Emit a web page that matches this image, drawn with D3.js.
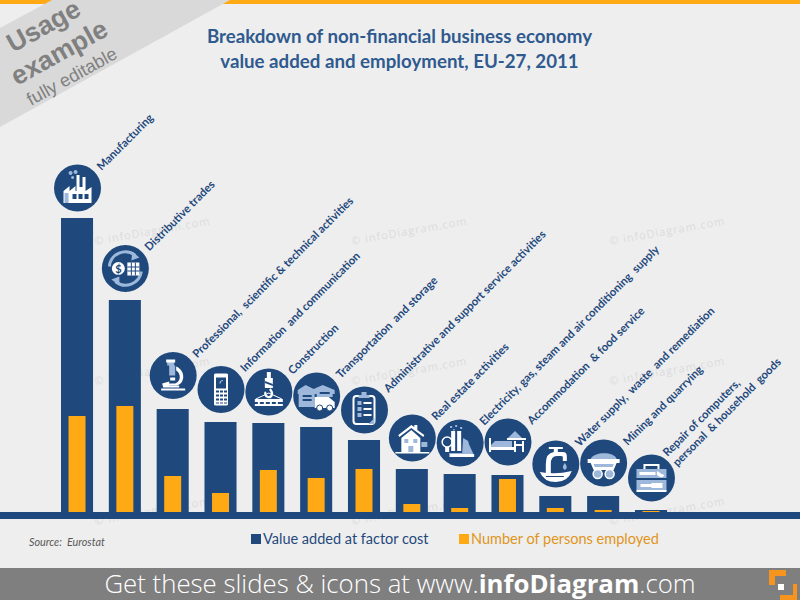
<!DOCTYPE html>
<html>
<head>
<meta charset="utf-8">
<script src="https://cdn.jsdelivr.net/npm/d3@7"></script>
<style>
  html, body { margin: 0; padding: 0; background: #eeeeee; }
  svg { display: block; }
  text { white-space: pre; }
</style>
</head>
<body>
<div id="chart"></div>
<script>
// chart data (share in %)
const categories = [
  "Manufacturing", "Distributive trades",
  "Professional,  scientific & technical activities",
  "Information  and communication", "Construction", "Transportation  and storage",
  "Administrative and support service activities", "Real estate activities",
  "Electricity, gas, steam and air conditioning  supply",
  "Accommodation  & food service", "Water supply,  waste  and remediation",
  "Mining and quarrying", "Repair of computers,|personal  & household  goods"
];
const valueAdded = [29.4, 21.2, 10.3, 9.0, 8.9, 8.5, 7.2, 4.3, 3.8, 3.7, 1.6, 1.6, 0.2];
const personsEmployed = [9.6, 10.6, 3.6, 1.9, 4.2, 3.4, 4.3, 0.8, 0.4, 3.3, 0.4, 0.2, 0.1];
const seriesNames = ["Value added at factor cost", "Number of persons employed"];
const iconNames = ["factory", "trade", "microscope", "phone", "crane", "warehouse",
  "clipboard", "house", "power", "bed", "tap", "mine", "toolbox"];
const watermarkRows = [245, 385, 525];
const watermarkCols = [95, 352, 610];

const NAVY = "#1f497d", ORANGE = "#ffa914", BG = "#eeeeee", PALE = "#9db8da";

const svg = d3.select("#chart").append("svg").attr("width", 800).attr("height", 600);

svg.append("rect").attr("width", 800).attr("height", 600).attr("fill", BG);
svg.append("rect").attr("width", 800).attr("height", 4).attr("fill", ORANGE);

// corner banner
svg.append("path").attr("d", "M0,28L52,0L230,0L0,127Z").attr("fill", "#d9d9d9");
const banner = [["Usage", 13, 53, 26.5, "bold"], ["example", 17, 86, 26.5, "bold"], ["fully editable", 31, 106, 18, "normal"]];
svg.selectAll(".banner").data(banner).join("text")
  .attr("transform", d => `translate(${d[1]},${d[2]}) rotate(-29)`)
  .attr("font-family", "'Liberation Sans', Arial, sans-serif")
  .attr("font-size", d => d[3]).attr("font-weight", d => d[4])
  .attr("fill", "#808080").text(d => d[0]);

// watermarks
const clip = svg.append("clipPath").attr("id", "wm").append("rect").attr("width", 800).attr("height", 530);
const wm = svg.append("g").attr("clip-path", "url(#wm)");
watermarkRows.forEach(y => watermarkCols.forEach(x => {
  wm.append("text").attr("transform", `translate(${x},${y}) rotate(-10)`)
    .attr("font-family", "'Open Sans', sans-serif").attr("font-size", 11).attr("letter-spacing", 1)
    .attr("fill", "#dcdcdc").text("© infoDiagram.com");
}));

// title
svg.selectAll(".title").data(["Breakdown of non-financial business economy", "value added and employment, EU-27, 2011"])
  .join("text").attr("x", 399.5).attr("y", (d, i) => 43 + i * 24.5)
  .attr("text-anchor", "middle").attr("font-family", "Lato, sans-serif")
  .attr("font-size", 18.7).attr("font-weight", 700).attr("fill", "#2f5a8f").text(d => d);

// scales
const x = d3.scaleBand().domain(categories).range([61, 667]).paddingInner(0.33).paddingOuter(0);
const y = d3.scaleLinear().domain([0, 30]).range([512, 212]);
const inner = x.bandwidth() * 0.53;

// bars
svg.selectAll(".bar").data(categories).join("rect").attr("class", "bar")
  .attr("x", d => x(d)).attr("width", x.bandwidth())
  .attr("y", (d, i) => y(valueAdded[i]))
  .attr("height", (d, i) => y(0) - y(valueAdded[i]))
  .attr("fill", NAVY);
svg.selectAll(".emp").data(categories).join("rect").attr("class", "emp")
  .attr("x", d => x(d) + (x.bandwidth() - inner) / 2).attr("width", inner)
  .attr("y", (d, i) => y(personsEmployed[i]))
  .attr("height", (d, i) => y(0) - y(personsEmployed[i]))
  .attr("fill", ORANGE);

// axis band
svg.append("rect").attr("y", y(0)).attr("width", 800).attr("height", 7).attr("fill", NAVY);

// icons, drawn around the centre of each circle
function shape(g, d, fill) { g.append("path").attr("d", d).attr("fill", fill || "#fff"); }
const icons = {
  factory(g) {
    shape(g, "M-14,15V3L-8,-2V3L-2,-2V3H-1V-13H2V-1H5V-11H8V3L14,-1V15Z");
    shape(g, "M-5,6H-1V11H-5ZM1,6H5V11H1ZM7,6H11V11H7Z", NAVY);
    shape(g, "M-7,-17a2,2 0 1,0 .1,0ZM-2,-18a2,2 0 1,0 .1,0ZM-5,-12a1.5,1.5 0 1,0 .1,0Z", PALE);
    shape(g, "M-13,5H-9V15H-13Z", PALE);
  },
  trade(g) {
    g.append("path").attr("d", "M-16,-2A16,16 0 0,1 10,-13").attr("fill", "none").attr("stroke", PALE).attr("stroke-width", 3);
    g.append("path").attr("d", "M16,3A16,16 0 0,1 -10,13").attr("fill", "none").attr("stroke", PALE).attr("stroke-width", 3);
    shape(g, "M7,-17L14,-11L6,-8Z", PALE); shape(g, "M-6,17L-14,11L-6,8Z", PALE);
    g.append("circle").attr("cx", -7).attr("cy", 0).attr("r", 6.5).attr("fill", "#fff");
    g.append("text").attr("x", -7).attr("y", 4).attr("text-anchor", "middle").attr("font-size", 11).attr("font-weight", 700).attr("font-family", "Lato").attr("fill", NAVY).text("$");
    shape(g, "M2,-6H14V7H2Z");
    shape(g, "M5.5,-6H6.5V7H5.5ZM9.5,-6H10.5V7H9.5ZM2,-2H14V-1H2ZM2,2H14V3H2Z", NAVY);
  },
  microscope(g) {
    shape(g, "M-6,-15H1V-10H2V0H-4V-10H-6Z", PALE);
    shape(g, "M-7,-16H2V-13H-7ZM-3,2H2V5H-3Z");
    shape(g, "M3,-9C13,-5 12,9 3,10H-8V8H2C8,6 8,-2 3,-5Z");
    shape(g, "M-11,8L-4,6L-4,10H6V12H-10ZM-12,13H12V15H-12Z");
  },
  phone(g) {
    shape(g, "M-7,-15Q-7,-16 -5,-16H5Q7,-16 7,-15V15Q7,16 5,16H-5Q-7,16 -7,15Z");
    shape(g, "M-5,-12H5V-1H-5Z", NAVY);
    shape(g, "M-5,1H-2V3H-5ZM-1,1H2V3H-1ZM3,1H6V3H3ZM-5,5H-2V7H-5ZM-1,5H2V7H-1ZM3,5H6V7H3ZM-5,9H-2V11H-5ZM-1,9H2V11H-1ZM3,9H6V11H3ZM-5,13H-2V14H-5ZM-1,13H2V14H-1ZM3,13H6V14H3Z", NAVY);
    g.append("path").attr("d", "M-1,-6Q-1,-9 2,-9").attr("fill", "none").attr("stroke", PALE).attr("stroke-width", 1.2);
  },
  crane(g) {
    shape(g, "M-2,-20H2V-14H4V-4H-4V-14H-2Z");
    shape(g, "M-4,-11L4,-8V-6L-4,-9Z", NAVY);
    g.append("path").attr("d", "M1,-3C5,1 3,6 -1,5C-4,4 -4,1 -3,0").attr("fill", "none").attr("stroke", "#fff").attr("stroke-width", 2.2);
    g.append("path").attr("d", "M-13,7L0,1L13,7").attr("fill", "none").attr("stroke", "#fff").attr("stroke-width", 1);
    shape(g, "M-14,7H14V10H-14ZM-14,12H14V14H-14Z");
    shape(g, "M-11,10H-9V12H-11ZM-5,10H-3V12H-5ZM1,10H3V12H1ZM7,10H9V12H7Z");
  },
  warehouse(g) {
    shape(g, "M-19,-6L-11,-11L-3,-7L6,-11L18,-6V-2H-19Z", PALE);
    shape(g, "M-18,-3H-2V11H-18ZM0,-3H16V1H0Z", PALE);
    shape(g, "M-14,-1H-5V1H-14ZM-14,3H-5V5H-14ZM3,-4H13V-2H3Z", NAVY);
    shape(g, "M-2,1H12L18,6V12H-2Z");
    g.append("circle").attr("cx", 3).attr("cy", 12).attr("r", 3).attr("fill", "#fff").attr("stroke", NAVY);
    g.append("circle").attr("cx", 13).attr("cy", 12).attr("r", 3).attr("fill", "#fff").attr("stroke", NAVY);
  },
  clipboard(g) {
    g.append("rect").attr("x", -11).attr("y", -14).attr("width", 21).attr("height", 28).attr("rx", 3).attr("fill", "none").attr("stroke", "#fff").attr("stroke-width", 2);
    shape(g, "M-3,-18H2V-15H5V-12H-6V-15H-3Z", PALE);
    shape(g, "M-7,-9H-3V-5H-7ZM-7,-3H-3V1H-7ZM-7,3H-3V7H-7Z", PALE);
    shape(g, "M-1,-8H7V-6H-1ZM-1,-2H7V0H-1ZM-1,4H7V6H-1Z");
    shape(g, "M4,14L10,8V14Z", PALE);
  },
  house(g) {
    shape(g, "M-14,-3L-1,-13L2,-11V-13H5V-8L12,-3L11,-1L-1,-10L-13,-1Z");
    shape(g, "M-11,0L-1,-8L8,0V14H-11Z");
    shape(g, "M-8,1H-4V5H-8ZM1,1H5V5H1ZM-4,8H1V14H-4Z", PALE);
    shape(g, "M-17,14H17V15.5H-17Z");
    shape(g, "M9,4H15V9H9Z", PALE);
  },
  power(g) {
    g.append("circle").attr("cx", -13).attr("cy", -1).attr("r", 5).attr("fill", "none").attr("stroke", "#fff").attr("stroke-width", 1.5);
    shape(g, "M-15,4H-11V9H-15Z");
    shape(g, "M-9,-12H-5V8H-9ZM-3,-12H1V8H-3Z");
    shape(g, "M3,-5L8,-2C9,4 13,8 14,14H-11V10H2Z", PALE);
    shape(g, "M-10,11H14V14H-10Z");
    shape(g, "M-10,-17h2v2h-2ZM-5,-18h2v2h-2ZM0,-16h2v2h-2ZM-7,-14h1.5v1.5h-1.5Z", PALE);
  },
  bed(g) {
    shape(g, "M-19,-4H-17V10H-19ZM14,-1H16V10H14ZM6,-1H8V10H6Z");
    shape(g, "M-17,3L-13,-1H4V5H-17Z", PALE);
    shape(g, "M-17,5H8V8H-17Z");
    shape(g, "M0,-4L7,-11L14,-4Z", PALE);
    shape(g, "M-1,-4H18V-2H-1ZM6,2H16V4H6Z");
  },
  tap(g) {
    shape(g, "M-7,-17H7V-15H2V-12H7Q11,-12 11,-8V-3H7V-7Q7,-8 5,-8H1Q-5,-8 -5,0V10H-10V0Q-10,-11 -2,-12V-15H-7Z");
    shape(g, "M9,-1C11,2 12,4 9,6C6,4 7,2 9,-1Z", PALE);
    shape(g, "M-16,8Q0,11 16,7Q12,18 0,18Q-12,18 -16,8Z");
    shape(g, "M-10,12H8V13H-10Z", NAVY);
  },
  mine(g) {
    shape(g, "M-13,-4C-10,-11 10,-12 13,-4Z", PALE);
    shape(g, "M-16,-4H16V0H13L10,7H-10L-13,0H-16Z");
    shape(g, "M-10,1H10L9,4H-9Z", PALE);
    g.append("circle").attr("cx", -6).attr("cy", 11).attr("r", 4.5).attr("fill", PALE).attr("stroke", "#fff").attr("stroke-width", 1.5);
    g.append("circle").attr("cx", 6).attr("cy", 11).attr("r", 4.5).attr("fill", PALE).attr("stroke", "#fff").attr("stroke-width", 1.5);
  },
  toolbox(g) {
    g.append("path").attr("d", "M-7,-9V-13H7V-9").attr("fill", "none").attr("stroke", "#fff").attr("stroke-width", 2);
    shape(g, "M-15,-9H15V0H-15ZM-15,2H15V13H-15Z", PALE);
    shape(g, "M-12,-6H4V-3H-12ZM-11,6H0V9H-11ZM0,5H11V10H0Z");
    shape(g, "M6,-7a4,4 0 1,0 7,4L10,-4Z");
    shape(g, "M-15,12H15V14H-15Z");
  }
};

// how far each circle floats above its bar
const iconLift = [30, 31.5, 33.5, 32.5, 31, 31, 30, 31, 31, 33, 32, 33, 32];

const markers = svg.selectAll(".marker").data(categories).join("g").attr("class", "marker")
  .attr("transform", (d, i) => `translate(${x(d) + x.bandwidth() / 2 + 0.5},${y(valueAdded[i]) - iconLift[i]})`);
markers.append("circle").attr("r", 23.5).attr("fill", NAVY);
markers.each(function (d, i) { icons[iconNames[i]](d3.select(this)); });

// slanted category labels, a wrapped label sits a bit lower
markers.each(function (d) {
  const lines = d.split("|");
  const t = d3.select(this).append("g")
    .attr("transform", `translate(${lines.length > 1 ? 26 : 24},${lines.length > 1 ? -11 : -17}) rotate(-45)`);
  lines.forEach((line, j) => {
    t.append("text").attr("x", 0).attr("y", (j - lines.length + 1) * 14)
      .attr("font-family", "Lato, sans-serif").attr("font-size", 11.3).attr("font-weight", 700)
      .attr("fill", NAVY).text(line);
  });
});

// legend
const legendX = [251, 459];
const legendColor = [NAVY, ORANGE], legendText = [NAVY, "#e0951a"];
seriesNames.forEach((name, i) => {
  svg.append("rect").attr("x", legendX[i]).attr("y", 534).attr("width", 10).attr("height", 10).attr("fill", legendColor[i]);
  svg.append("text").attr("x", legendX[i] + 12).attr("y", 544)
    .attr("font-family", "Lato, sans-serif").attr("font-size", 14.5).attr("fill", legendText[i]).text(name);
});

// source
svg.append("text").attr("x", 29).attr("y", 546).attr("font-family", "Lato, sans-serif")
  .attr("font-size", 10.8).attr("font-style", "italic").attr("fill", "#595959").text("Source:  Eurostat");

// footer
svg.append("rect").attr("y", 568).attr("width", 800).attr("height", 32).attr("fill", "#7f7f7f");
const footer = svg.append("text").attr("x", 400).attr("y", 593).attr("text-anchor", "middle")
  .attr("font-family", "'Open Sans', sans-serif").attr("font-size", 25.8).attr("fill", "#fff");
footer.append("tspan").attr("font-weight", 300).text("Get these slides & icons at www.");
footer.append("tspan").attr("font-weight", 700).text("infoDiagram");
footer.append("tspan").attr("font-weight", 300).text(".com");

// logo
svg.append("path").attr("d", "M769,570H786V576H775V585H769ZM793,584H797V600H780V595H793Z").attr("fill", "#f7941d");
svg.append("rect").attr("x", 778).attr("y", 584).attr("width", 6).attr("height", 6).attr("fill", "#fff");
</script>
</body>
</html>
